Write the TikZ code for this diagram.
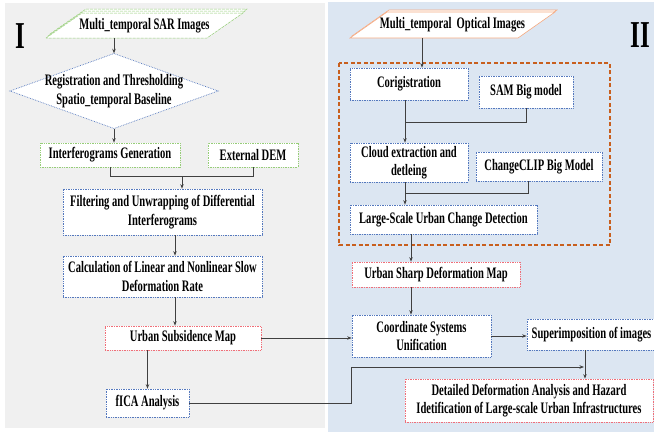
\documentclass[tikz,border=0pt]{standalone}
\usepackage{fontspec}
\setmainfont{Liberation Serif}[FakeStretch=0.66]
\usetikzlibrary{arrows.meta}
\definecolor{panelgray}{RGB}{240,240,240}
\definecolor{panelblue}{RGB}{220,230,242}
\definecolor{bdblue}{RGB}{84,120,190}
\definecolor{bdred}{RGB}{240,110,120}
\definecolor{bdgreen}{RGB}{150,205,120}
\definecolor{bdorange}{RGB}{200,95,30}
\definecolor{bdpeach}{RGB}{245,170,130}
\definecolor{ln}{RGB}{64,64,64}
\tikzset{
  txt/.style={font=\bfseries\fontsize{16}{18.5}\selectfont, align=center, inner sep=0pt},
  boxb/.style={txt, draw=#1, densely dotted, line width=0.7pt, fill=white},
  bluebox/.style={boxb=bdblue},
  redbox/.style={boxb=bdred},
  greenbox/.style={boxb=bdgreen},
  ln/.style={draw=ln, line width=0.9pt},
  arr/.style={ln, -{Stealth[length=4.5pt,width=3.5pt]}},
  roman/.style={font=\bfseries\fontsize{38}{42}\selectfont, inner sep=0pt}
}
\begin{document}
\begin{tikzpicture}[x=1pt,y=-1pt]
\useasboundingbox (0,0) rectangle (654,432);
% panels
\fill[panelgray] (5,3) rectangle (325,428);
\fill[panelblue] (328,2) rectangle (654,432);
\node[roman] (r1) at (20,36) {I};
\node[roman] (r2) at (640,35) {II};

% ---------- left column ----------
\foreach \d in {4,2,0}{
  \draw[bdgreen, dashed, dash pattern=on 3pt off 1pt, line width=0.5pt, fill=white]
    (46+\d,38-\d) -- (82+\d,13-\d) -- (243+\d,13-\d) -- (207+\d,38-\d) -- cycle;
}
\node[txt, minimum height=25, minimum width=120] (sar) at (144.5,25.5) {Multi\_temporal SAR Images};

\draw[bdblue, densely dotted, line width=0.7pt, fill=white]
  (114,53.5) -- (218,91) -- (114,128.5) -- (10,91) -- cycle;
\node[txt, minimum width=208, minimum height=75] (dia) at (114,91)
  {Registration and Thresholding\\Spatio\_temporal Baseline};

\node[greenbox, minimum width=140, minimum height=24] (ig) at (110,155) {Interferograms Generation};
\node[greenbox, minimum width=90, minimum height=24] (dem) at (253,155) {External DEM};
\node[bluebox, minimum width=199, minimum height=46] (filt) at (162.5,212)
  {Filtering and Unwrapping of Differential\\Interferograms};
\node[bluebox, minimum width=199, minimum height=41] (calc) at (162.5,276.5)
  {Calculation of Linear and Nonlinear Slow\\Deformation Rate};
\node[redbox, minimum width=156, minimum height=24] (usm) at (183,338) {Urban Subsidence Map};
\node[bluebox, minimum width=83, minimum height=28] (fica) at (147.5,403) {fICA Analysis};

% ---------- right column ----------
\draw[bdorange, dashed, dash pattern=on 4pt off 2.5pt, line width=1.4pt] (339,63) rectangle (610,245);
\foreach \d in {2,0}{
  \draw[bdpeach, line width=0.6pt, fill=white]
    (350+\d,38-\d) -- (387+\d,12-\d) -- (555+\d,12-\d) -- (518+\d,38-\d) -- cycle;
}
\node[txt, minimum height=26, minimum width=120] (opt) at (452.5,25) {Multi\_temporal~ Optical Images};

\node[bluebox, minimum width=118, minimum height=32] (cor) at (409,84) {Corigistration};
\node[bluebox, minimum width=94, minimum height=32] (sam) at (526,92) {SAM Big model};
\node[bluebox, minimum width=118, minimum height=39] (cloud) at (409,162.5) {Cloud extraction and\\detleing};
\node[bluebox, minimum width=126, minimum height=29] (clip) at (539,166.5) {ChangeCLIP Big Model};
\node[bluebox, minimum width=187, minimum height=29] (lscd) at (443.5,219.5) {Large-Scale Urban Change Detection};
\node[redbox, minimum width=168, minimum height=25] (usdm) at (436,274.5) {Urban Sharp Deformation Map};
\node[bluebox, minimum width=139, minimum height=42] (coord) at (421.5,336) {Coordinate Systems\\Unification};
\node[bluebox, minimum width=129, minimum height=31] (sup) at (591.5,334.5) {Superimposition of images};
\node[redbox, minimum width=248, minimum height=43] (det) at (529,400.5)
  {Detailed Deformation Analysis and Hazard\\Idetification of Large-scale Urban Infrastructures};

% ---------- connectors ----------
\coordinate (j1) at (182,176);
\coordinate (oj) at (422,0);
\coordinate (cj) at (405,122);
\coordinate (cj2) at (405,193);
\coordinate (uj) at (411,0);
\coordinate (sj) at (585,0);
\coordinate (fend) at (584,367);

\draw[arr] (sar.south -| dia.north) -- (dia.north);
\draw[arr] (dia.south) -- (dia.south |- ig.north);
\draw[ln] (ig.south) |- (dem.south |- j1) -- (dem.south);
\draw[arr] (j1) -- (j1 |- filt.north);
\draw[arr] ([xshift=12.5]filt.south) -- ([xshift=12.5]calc.north);
\draw[arr] ([xshift=12.5]calc.south) -- ([xshift=12.5]calc.south |- usm.north);
\draw[arr] (fica.north |- usm.south) -- (fica.north);
\draw[arr] (usm.east) -- (usm.east -| coord.west);
\draw[arr] (fica.east) -- (fica.east -| coord.west) |- (fend);

\draw[arr] (opt.south -| oj) -- (cor.north -| oj);
\draw[ln] (cor.south -| cj) -- (cj);
\draw[ln] (sam.south) |- (cj);
\draw[arr] (cj) -- (cj |- cloud.north);
\draw[ln] (cloud.south -| cj2) -- (cj2);
\draw[ln] ([xshift=-11]clip.south) |- (cj2);
\draw[arr] (cj2) -- (cj2 |- lscd.north);
\draw[arr] (lscd.south -| uj) -- (usdm.north -| uj);
\draw[arr] (usdm.south -| uj) -- (coord.north -| uj);
\draw[arr] (coord.east) -- (coord.east -| sup.west);
\draw[arr] (sup.south -| sj) -- (det.north -| sj);
\end{tikzpicture}
\end{document}
